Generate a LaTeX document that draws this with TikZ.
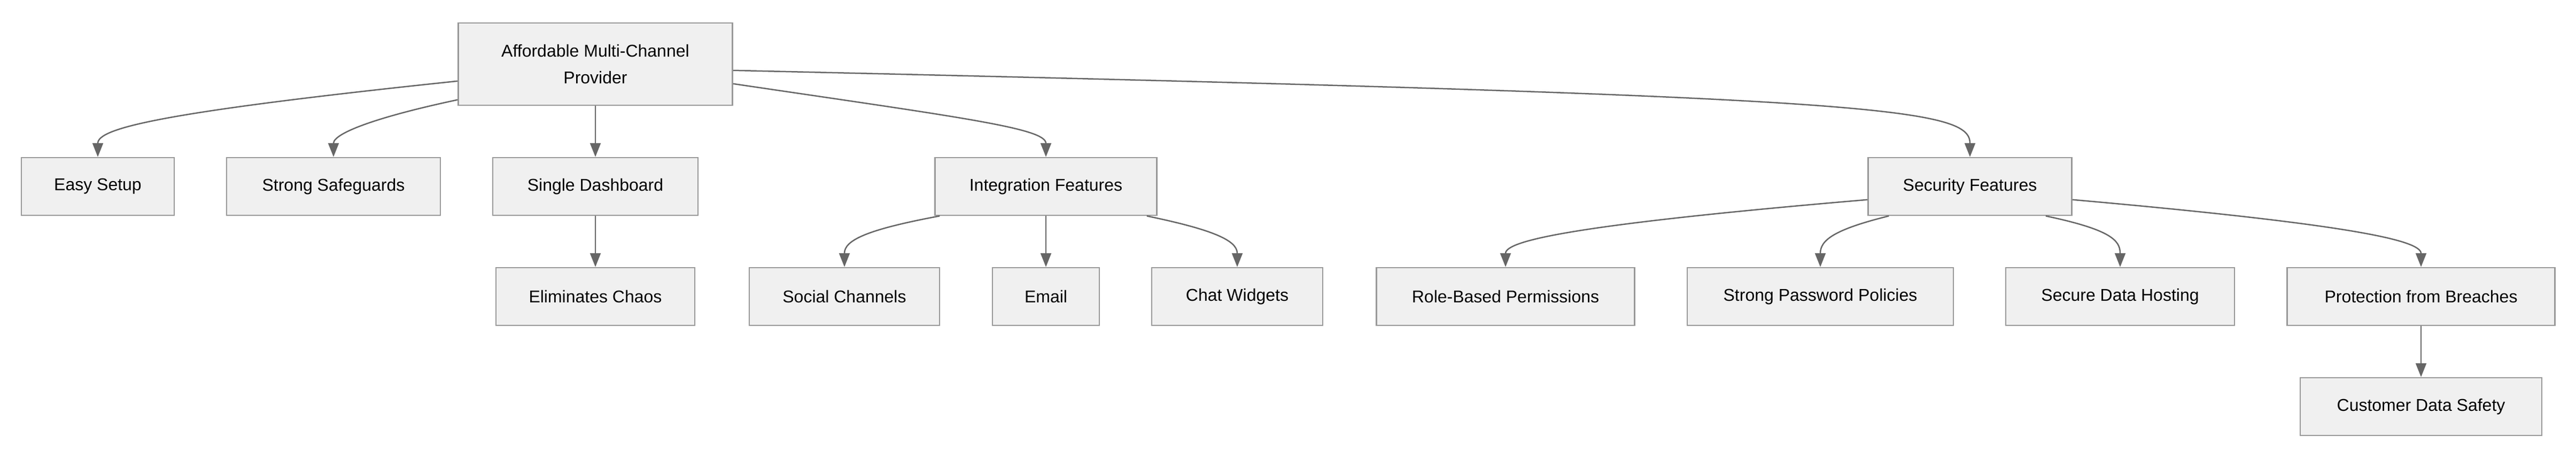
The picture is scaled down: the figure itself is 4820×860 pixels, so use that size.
\documentclass[tikz,border=0pt]{standalone}
\usepackage{fontspec}
\setmainfont{Liberation Sans}
\usetikzlibrary{calc,arrows.meta}
\begin{document}
\begin{tikzpicture}[x=1pt,y=-1pt,
  box/.style={draw=black!40,fill=black!6,line width=2.5pt,minimum height=108pt,inner sep=0pt,font=\fontsize{32}{50}\selectfont,align=center},
  conn/.style={draw=black!60,line width=2.5pt,-{Triangle[length=26pt,width=20pt]}}]
\useasboundingbox (0,0) rectangle (4820,860);
\node[box,minimum width=513pt,minimum height=154pt] (root) at (1114,120) {Affordable Multi-Channel\\Provider};
\node[box,minimum width=286pt] (easy) at (183,349) {Easy Setup};
\node[box,minimum width=400pt] (safe) at (624,349) {Strong Safeguards};
\node[box,minimum width=384pt] (dash) at (1114,349) {Single Dashboard};
\node[box,minimum width=415pt] (integ) at (1957,349) {Integration Features};
\node[box,minimum width=381pt] (sec) at (3686,349) {Security Features};
\node[box,minimum width=372pt] (chaos) at (1114,555) {Eliminates Chaos};
\node[box,minimum width=356pt] (social) at (1580,555) {Social Channels};
\node[box,minimum width=200pt] (email) at (1957,555) {Email};
\node[box,minimum width=320pt] (chat) at (2315,555) {Chat Widgets};
\node[box,minimum width=483pt] (role) at (2817,555) {Role-Based Permissions};
\node[box,minimum width=498pt] (pass) at (3406,555) {Strong Password Policies};
\node[box,minimum width=428pt] (host) at (3967,555) {Secure Data Hosting};
\node[box,minimum width=501pt] (prot) at (4530,555) {Protection from Breaches};
\node[box,minimum width=452pt] (cust) at (4530,761) {Customer Data Safety};

\draw[conn] ($(root.north west)+(0,110)$) .. controls (300,210) and (183,240) .. (easy.north);
\draw[conn] ($(root.north west)+(0,145)$) .. controls (700,220) and (624,250) .. (safe.north);
\draw[conn] (root.south) -- (dash.north);
\draw[conn] ($(root.north east)+(0,115)$) .. controls (1800,220) and (1957,240) .. (integ.north);
\draw[conn] ($(root.north east)+(0,90)$) .. controls (3500,180) and (3686,200) .. (sec.north);
\draw[conn] (dash.south) -- (chaos.north);
\draw[conn] ($(integ.south west)+(10,0)$) .. controls (1620,430) and (1580,450) .. (social.north);
\draw[conn] (integ.south) -- (email.north);
\draw[conn] ($(integ.south east)+(-20,0)$) .. controls (2270,430) and (2315,450) .. (chat.north);
\draw[conn] ($(sec.north west)+(0,80)$) .. controls (2950,420) and (2817,450) .. (role.north);
\draw[conn] ($(sec.south west)+(40,0)$) .. controls (3430,430) and (3406,450) .. (pass.north);
\draw[conn] ($(sec.south east)+(-50,0)$) .. controls (3950,430) and (3967,450) .. (host.north);
\draw[conn] ($(sec.north east)+(0,80)$) .. controls (4400,420) and (4530,450) .. (prot.north);
\draw[conn] (prot.south) -- (cust.north);
\end{tikzpicture}
\end{document}
